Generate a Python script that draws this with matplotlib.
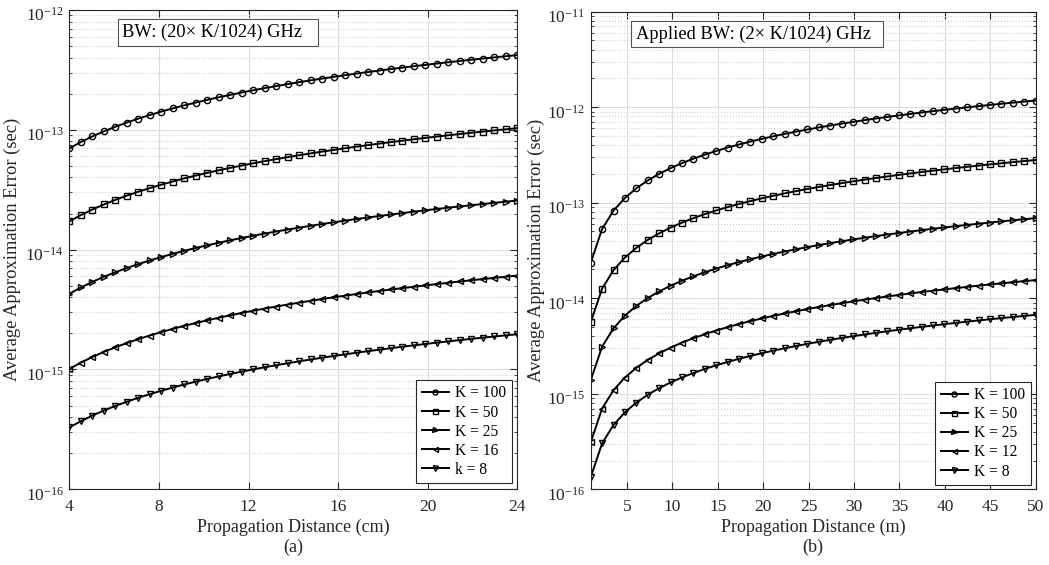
import matplotlib
matplotlib.use('Agg')
import matplotlib.pyplot as plt
import numpy as np
from matplotlib.ticker import NullFormatter
from matplotlib.patches import Rectangle
from matplotlib.transforms import ScaledTranslation

plt.rcParams['font.family'] = 'Liberation Serif'
plt.rcParams['mathtext.fontset'] = 'custom'
plt.rcParams['mathtext.rm'] = 'Liberation Serif'
plt.rcParams['mathtext.it'] = 'Liberation Serif:italic'

# ---- data (values in fs = 1e-15 s) ----
# (a) propagation distance in cm
dist_a = [4.0, 4.513, 5.026, 5.538, 6.051, 6.564, 7.077, 7.590, 8.103, 8.615,
          9.128, 9.641, 10.154, 10.667, 11.179, 11.692, 12.205, 12.718, 13.231, 13.744,
          14.256, 14.769, 15.282, 15.795, 16.308, 16.821, 17.333, 17.846, 18.359, 18.872,
          19.385, 19.897, 20.410, 20.923, 21.436, 21.949, 22.462, 22.974, 23.487, 24.0]
a_K100 = [70.0, 79.0, 88.0, 96.9, 105.9, 114.9, 123.8, 132.8, 141.8, 150.8,
          159.7, 168.7, 177.7, 186.7, 195.6, 204.6, 213.6, 222.6, 231.5, 240.5,
          249.5, 258.5, 267.4, 276.4, 285.4, 294.4, 303.3, 312.3, 321.3, 330.3,
          339.2, 348.2, 357.2, 366.2, 375.1, 384.1, 393.1, 402.0, 411.0, 420.0]
a_K50 = [17.2, 19.4, 21.6, 23.8, 26.0, 28.2, 30.4, 32.6, 34.8, 37.0,
         39.3, 41.5, 43.7, 45.9, 48.1, 50.3, 52.5, 54.7, 56.9, 59.1,
         61.3, 63.5, 65.7, 67.9, 70.1, 72.3, 74.5, 76.7, 78.9, 81.1,
         83.4, 85.6, 87.8, 90.0, 92.2, 94.4, 96.6, 98.8, 101.0, 103.2]
a_K25 = [4.28, 4.83, 5.38, 5.93, 6.47, 7.02, 7.57, 8.12, 8.67, 9.22,
         9.77, 10.32, 10.86, 11.41, 11.96, 12.51, 13.06, 13.61, 14.16, 14.71,
         15.25, 15.80, 16.35, 16.90, 17.45, 18.00, 18.55, 19.09, 19.64, 20.19,
         20.74, 21.29, 21.84, 22.39, 22.94, 23.48, 24.03, 24.58, 25.13, 25.68]
a_K16 = [1.01, 1.14, 1.27, 1.40, 1.53, 1.66, 1.79, 1.92, 2.05, 2.18,
         2.31, 2.44, 2.57, 2.70, 2.83, 2.96, 3.09, 3.22, 3.35, 3.48,
         3.61, 3.74, 3.87, 4.00, 4.13, 4.26, 4.39, 4.52, 4.65, 4.77,
         4.90, 5.03, 5.16, 5.29, 5.42, 5.55, 5.68, 5.81, 5.94, 6.07]
a_K8 = [0.328, 0.370, 0.412, 0.454, 0.496, 0.538, 0.580, 0.622, 0.664, 0.706,
        0.749, 0.791, 0.833, 0.875, 0.917, 0.959, 1.001, 1.043, 1.085, 1.127,
        1.169, 1.211, 1.253, 1.295, 1.337, 1.379, 1.421, 1.463, 1.505, 1.548,
        1.590, 1.632, 1.674, 1.716, 1.758, 1.800, 1.842, 1.884, 1.926, 1.968]

# (b) propagation distance in m
dist_b = [1.0, 2.256, 3.513, 4.769, 6.026, 7.282, 8.538, 9.795, 11.051, 12.308,
          13.564, 14.821, 16.077, 17.333, 18.590, 19.846, 21.103, 22.359, 23.615, 24.872,
          26.128, 27.385, 28.641, 29.897, 31.154, 32.410, 33.667, 34.923, 36.179, 37.436,
          38.692, 39.949, 41.205, 42.462, 43.718, 44.974, 46.231, 47.487, 48.744, 50.0]
b_K100 = [23.5, 53.0, 82.6, 112.1, 141.6, 171.1, 200.7, 230.2, 259.7, 289.2,
          318.8, 348.3, 377.8, 407.3, 436.9, 466.4, 495.9, 525.4, 555.0, 584.5,
          614.0, 643.5, 673.1, 702.6, 732.1, 761.7, 791.2, 820.7, 850.2, 879.8,
          909.3, 938.8, 968.3, 997.9, 1027.4, 1056.9, 1086.4, 1116.0, 1145.5, 1175.0]
b_K50 = [5.6, 12.6, 19.7, 26.7, 33.7, 40.8, 47.8, 54.9, 61.9, 68.9,
         76.0, 83.0, 90.0, 97.1, 104.1, 111.1, 118.2, 125.2, 132.3, 139.3,
         146.3, 153.4, 160.4, 167.4, 174.5, 181.5, 188.5, 195.6, 202.6, 209.6,
         216.7, 223.7, 230.7, 237.8, 244.8, 251.9, 258.9, 265.9, 273.0, 280.0]
b_K25 = [1.38, 3.11, 4.85, 6.58, 8.32, 10.05, 11.78, 13.52, 15.25, 16.98,
         18.72, 20.45, 22.19, 23.92, 25.65, 27.39, 29.12, 30.85, 32.59, 34.32,
         36.06, 37.79, 39.52, 41.26, 42.99, 44.72, 46.46, 48.19, 49.93, 51.66,
         53.39, 55.13, 56.86, 58.60, 60.33, 62.06, 63.80, 65.53, 67.26, 69.00]
b_K12 = [0.31, 0.70, 1.09, 1.48, 1.87, 2.26, 2.65, 3.04, 3.43, 3.82,
         4.20, 4.59, 4.98, 5.37, 5.76, 6.15, 6.54, 6.93, 7.32, 7.71,
         8.10, 8.49, 8.88, 9.27, 9.66, 10.05, 10.44, 10.83, 11.22, 11.61,
         12.00, 12.38, 12.77, 13.16, 13.55, 13.94, 14.33, 14.72, 15.11, 15.50]
b_K8 = [0.134, 0.302, 0.471, 0.639, 0.808, 0.976, 1.144, 1.313, 1.481, 1.649,
        1.818, 1.986, 2.154, 2.323, 2.491, 2.659, 2.828, 2.996, 3.164, 3.333,
        3.501, 3.670, 3.838, 4.006, 4.175, 4.343, 4.511, 4.680, 4.848, 5.016,
        5.185, 5.353, 5.521, 5.690, 5.858, 6.026, 6.195, 6.363, 6.531, 6.700]

labels_a = ['K = 100', 'K = 50', 'K = 25', 'K = 16', 'k = 8']
labels_b = ['K = 100', 'K = 50', 'K = 25', 'K = 12', 'K = 8']
markers = ['o', 's', '>', '<', 'v']

fig = plt.figure(figsize=(10.49, 5.65), dpi=100)
ax1 = fig.add_axes([0.0661, 0.1340, 0.4271, 0.8484])
ax2 = fig.add_axes([0.5631, 0.1340, 0.4242, 0.8453])

txt_col = '#262626'


def style_axis(ax, ylab_x, e_lo, e_hi):
    ax.set_yscale('log')
    ax.set_ylim(10.0 ** e_lo, 10.0 ** e_hi)
    ax.set_yticks([10.0 ** e for e in range(e_lo, e_hi + 1)])
    ax.set_yticks([m * 10.0 ** e for e in range(e_lo, e_hi) for m in range(2, 10)], minor=True)
    ax.yaxis.set_minor_formatter(NullFormatter())
    ax.grid(True, which='major', color='#dcdcdc', linewidth=0.8)
    ax.grid(True, which='minor', axis='y', color='#d0d0d0', linestyle=':', linewidth=0.8)
    ax.set_axisbelow(True)
    ax.tick_params(which='both', direction='in', top=True, right=True,
                   labelsize=12.5, colors=txt_col)
    ax.tick_params(axis='x', pad=7)
    ax.tick_params(axis='y', pad=4)
    ax.tick_params(which='major', length=5)
    ax.tick_params(which='minor', length=2.5)
    for s in ax.spines.values():
        s.set_color('#262626')
        s.set_linewidth(0.8)
    ax.set_ylabel('Average Approximation Error (sec)', fontsize=13.3, color=txt_col)
    ax.yaxis.set_label_coords(ylab_x, 0.5)


def shift_yticklabels(ax):
    # labels sit a little below their tick, as in the original
    for t in ax.yaxis.get_major_ticks():
        t.label1.set_transform(t.label1.get_transform() +
                               ScaledTranslation(0, -3 / 72, fig.dpi_scale_trans))


def add_legend(ax, anchor):
    leg = ax.legend(loc='lower right', bbox_to_anchor=anchor, fontsize=11.2, frameon=True,
                    fancybox=False, edgecolor='#262626', framealpha=1, handlelength=1.75,
                    handletextpad=0.4, labelspacing=0.2, borderpad=0.35, borderaxespad=0.0)
    leg.get_frame().set_linewidth(0.8)
    for h in leg.legend_handles:
        h.set_markersize(3.6)


def add_box(ax, text, x0, x1, y0, y1, tx):
    ax.add_patch(Rectangle((x0, y0), x1 - x0, y1 - y0, transform=ax.transAxes,
                           facecolor='white', edgecolor='#555555', linewidth=0.8, zorder=4))
    ax.text(tx, (y0 + y1) / 2, text, transform=ax.transAxes, fontsize=13.3,
            va='center', ha='left', color='black', zorder=5)


series_a = [a_K100, a_K50, a_K25, a_K16, a_K8]
for vals, m, lab in zip(series_a, markers, labels_a):
    ax1.plot(dist_a, np.array(vals) * 1e-15, color='black', linewidth=1.4, marker=m,
             markersize=4.5, markerfacecolor='none', markeredgewidth=1.0, label=lab)
style_axis(ax1, -0.108, -16, -12)
ax1.set_xlim(4, 24)
ax1.set_xticks([4, 8, 12, 16, 20, 24])
ax1.set_xlabel('Propagation Distance (cm)\n(a)', fontsize=13, color=txt_col, labelpad=3,
               linespacing=1.2)
add_box(ax1, 'BW: (20\u00d7 K/1024) GHz', 0.108, 0.5545, 0.9249, 0.9818, 0.117)
add_legend(ax1, (0.9875, 0.0125))

series_b = [b_K100, b_K50, b_K25, b_K12, b_K8]
for vals, m, lab in zip(series_b, markers, labels_b):
    ax2.plot(dist_b, np.array(vals) * 1e-15, color='black', linewidth=1.4, marker=m,
             markersize=4.5, markerfacecolor='none', markeredgewidth=1.0, label=lab)
style_axis(ax2, -0.1027, -16, -11)
ax2.set_xlim(1, 50)
ax2.set_xticks([5, 10, 15, 20, 25, 30, 35, 40, 45, 50])
ax2.set_xlabel('Propagation Distance (m)\n(b)', fontsize=13, color=txt_col, labelpad=3,
               linespacing=1.2)
add_box(ax2, 'Applied BW: (2\u00d7 K/1024) GHz', 0.0899, 0.6575, 0.9255, 0.9812, 0.1011)
add_legend(ax2, (0.9888, 0.009))

shift_yticklabels(ax1)
shift_yticklabels(ax2)

fig.savefig('out.png', dpi=100)
